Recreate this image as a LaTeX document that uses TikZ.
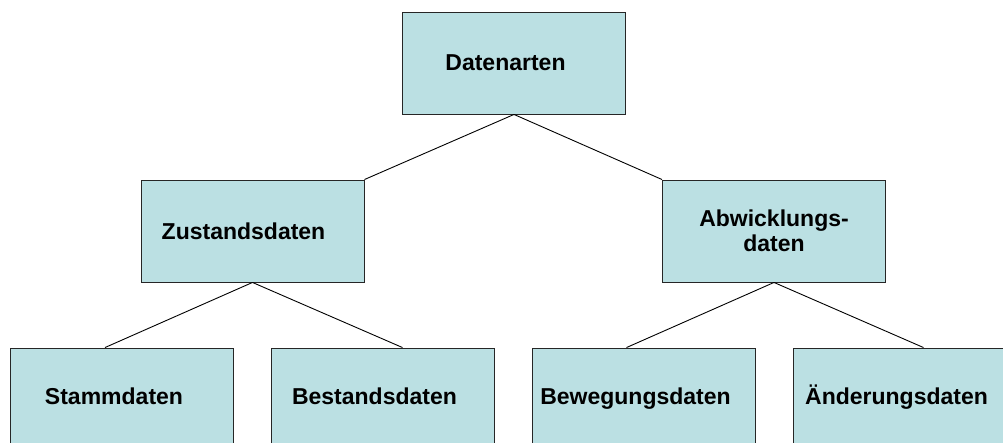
\documentclass[tikz,border=0pt]{standalone}
\usepackage{fontspec}
\setmainfont{Liberation Sans}
\usepackage{tikz}
\usetikzlibrary{calc}
\definecolor{boxfill}{RGB}{187,224,227}
\tikzset{
    box/.style={draw=black!85, line width=0.9pt, fill=boxfill, inner sep=0pt,
        minimum width=223pt, minimum height=102pt, align=center,
        font=\fontsize{23}{25}\selectfont\bfseries},
    leaf/.style={box, minimum height=96pt, text height=17pt, text depth=0pt},
    link/.style={draw=black, line width=0.9pt}
}

\begin{document}
\begin{tikzpicture}[x=1pt, y=-1pt]
        \useasboundingbox (0,0) rectangle (1003,443);

        \draw (514,63) node[box](datenarten){Datenarten\hspace*{17pt}};
        \draw (252.5,231) node[box](zustand){Zustandsdaten\hspace*{18pt}};
        \draw (774,231) node[box](abwicklung){Abwicklungs-\\daten};

        \draw (122,396) node[leaf](stamm){Stammdaten\hspace*{16pt}};
        \draw (382.5,396) node[leaf](bestand){Bestandsdaten\hspace*{16pt}};
        \draw (643.5,396) node[leaf](bewegung){Bewegungsdaten\hspace*{16pt}};
        \draw (904.5,396) node[leaf](aenderung){Änderungsdaten\hspace*{16pt}};

        \draw[link] (datenarten.south) -- (zustand.north east);
        \draw[link] (datenarten.south) -- (abwicklung.north west);
        \draw[link] (zustand.south) -- ([xshift=-17pt]stamm.north);
        \draw[link] (zustand.south) -- ([xshift=20pt]bestand.north);
        \draw[link] (abwicklung.south) -- ([xshift=-17pt]bewegung.north);
        \draw[link] (abwicklung.south) -- ([xshift=19pt]aenderung.north);
    \end{tikzpicture}
\end{document}
